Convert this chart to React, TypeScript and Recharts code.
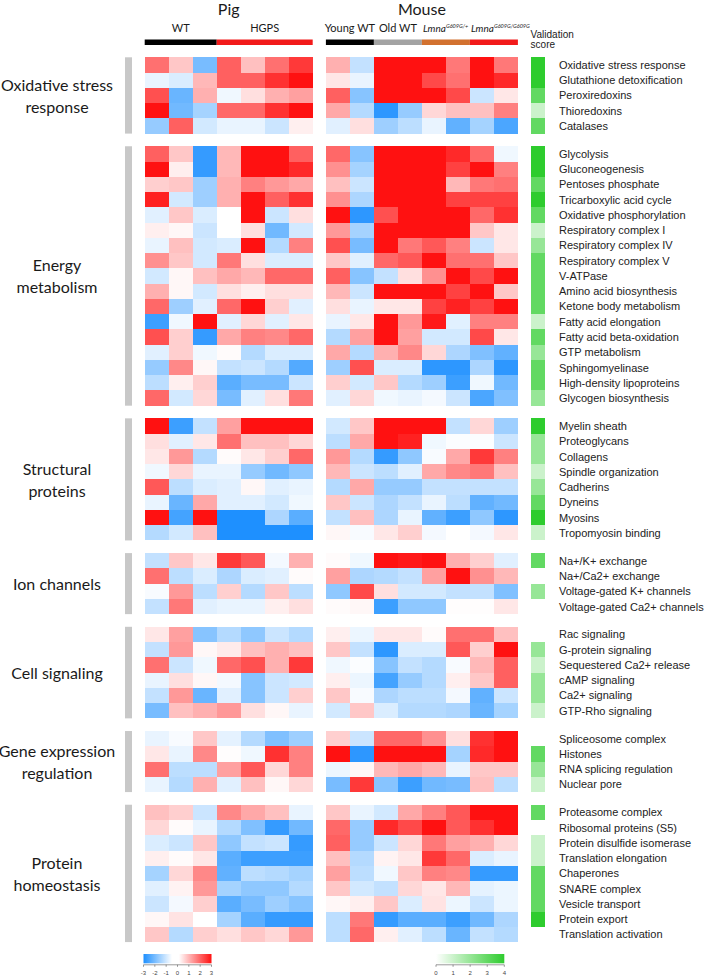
import React from 'react';
import { ScatterChart, Scatter, XAxis, YAxis } from 'recharts';

// ---------------- DATA ----------------
const pigConditions = ['WT', 'WT', 'WT', 'HGPS', 'HGPS', 'HGPS', 'HGPS'];
const mouseConditions = ['Young WT', 'Young WT', 'Old WT', 'Old WT', 'Lmna G609G/+', 'Lmna G609G/+', 'Lmna G609G/G609G', 'Lmna G609G/G609G'];

const oxidativeRows = ['Oxidative stress response', 'Glutathione detoxification', 'Peroxiredoxins', 'Thioredoxins', 'Catalases'];
const oxidativePig = [
  [1.8, 0.7, -1.8, 2.0, 0.8, 1.8, 2.5],
  [-0.3, -0.5, 0.9, 2.0, 2.0, 2.6, 3],
  [2.2, -2.0, 1.0, -0.2, 0.4, 1.0, 1.2],
  [3, -1.9, -1.2, 1.9, 1.9, 2.6, 3],
  [-1.4, 2.0, -0.6, -0.3, -0.3, -0.7, 0.2],
];
const oxidativeMouse = [
  [1.0, -0.8, 3, 3, 3, 1.7, 3, 1.7],
  [0.3, -0.3, 3, 3, 2.3, 1.8, 3, 2.7],
  [2.0, -1.6, 3, 3, 3, 2.3, -0.7, 0.3],
  [1.1, -1.0, -2.8, -1.4, 0.5, 0.8, 0.8, 1.6],
  [-0.4, 0.4, -1.3, -0.9, -0.3, -2.1, -1.2, -2.4],
];
const oxidativeValidation = [4, 4, 3, 1, 3];

const energyRows = ['Glycolysis', 'Gluconeogenesis', 'Pentoses phosphate', 'Tricarboxylic acid cycle', 'Oxidative phosphorylation', 'Respiratory complex I', 'Respiratory complex IV', 'Respiratory complex V', 'V-ATPase', 'Amino acid biosynthesis', 'Ketone body metabolism', 'Fatty acid elongation', 'Fatty acid beta-oxidation', 'GTP metabolism', 'Sphingomyelinase', 'High-density lipoproteins', 'Glycogen biosynthesis'];
const energyPig = [
  [2.0, 0.7, -2.7, 0.9, 3, 3, 2.0],
  [3, 0.2, -2.7, 0.9, 3, 3, 2.7],
  [0.6, 0.7, -1.3, 1.0, 1.6, 1.3, 1.1],
  [2.8, -0.6, -1.3, 1.0, 3, 2.0, 2.6],
  [-0.4, 0.7, -0.5, 0, 3, -0.7, 0.4],
  [0.2, 0.1, -0.7, 0, 0.4, -1.9, -0.6],
  [-0.3, 0.8, -0.6, -0.5, 3, -1.0, 1.6],
  [1.4, 0.7, -0.6, 1.7, 0.4, -0.5, -0.5],
  [-0.6, 0.1, 0.8, 1.1, 0.9, 1.9, 1.9],
  [1.0, 0.1, -0.6, 0.4, 0.2, 0.4, 0.4],
  [1.9, -1.3, -0.4, 1.9, 3, 0.6, -0.4],
  [-2.6, -0.2, 3, -0.4, 0.5, -0.4, 0.3],
  [2.2, 0.6, -2.7, 1.1, 1.6, 1.5, 1.9],
  [-0.4, 0.6, -0.2, 0.05, -1.0, -0.5, -0.5],
  [-1.4, 1.5, 0.1, -0.8, -0.7, -1.0, -2.3],
  [-0.9, 0.2, 0.6, -2.2, -1.8, -1.8, -0.7],
  [1.9, -0.6, 0.5, -1.8, -0.4, 0.4, 1.7],
];
const energyMouse = [
  [1.9, -1.6, 3, 3, 3, 2.7, 1.9, -0.2],
  [1.4, -1.2, 3, 3, 3, 2.4, 3, 1.6],
  [0.8, -0.7, 3, 3, 3, 0.9, 1.7, 1.8],
  [1.4, -1.1, 3, 3, 3, 2.4, 2.4, 2.4],
  [3, -2.8, 2.2, 3, 3, 3, 1.9, 2.6],
  [1.3, -1.2, 3, 3, 3, 3, 0.7, 0.3],
  [2.2, -1.8, 3, 1.7, 2.1, 1.6, -0.7, 0.3],
  [0.7, -0.4, 1.9, 2.1, 3, 1.8, 1.8, 0.7],
  [2.0, -1.6, -0.8, 0.4, 1.4, 3, 2.3, 3],
  [0.9, -0.7, 3, 3, 3, 2.4, 3, 0.7],
  [0.4, -0.3, 0.3, 0.3, 2.4, 2.8, 2.4, 3],
  [-0.3, 0.3, 3, 1.3, 2.9, -0.4, 1.6, 1.6],
  [-1.0, 1.2, 3, 1.2, -0.6, -0.6, 2.3, 0.3],
  [1.1, -1.0, 1.0, 1.5, 0.5, -1.1, -1.7, -2.1],
  [-1.3, 2.2, -0.5, -0.5, -2.8, -2.8, -1.1, -2.8],
  [0.6, -0.6, 0.7, -1.0, -1.3, -2.6, -0.2, -1.9],
  [-0.4, 0.5, -0.2, -0.3, -0.15, -0.7, -2.4, -1.7],
];
const energyValidation = [4, 4, 3, 4, 3, 1, 2, 3, 3, 3, 3, 1, 3, 2, 3, 3, 2];

const structuralRows = ['Myelin sheath', 'Proteoglycans', 'Collagens', 'Spindle organization', 'Cadherins', 'Dyneins', 'Myosins', 'Tropomyosin binding'];
const structuralPig = [
  [3, -2.6, -0.8, 1.2, 3, 3, 3],
  [0.4, -0.4, 0.3, 1.8, 0.8, 0.8, 0.5],
  [0.3, 1.3, -1.0, 0.05, 0.3, 0.6, 1.9],
  [-0.2, 0.5, -0.3, -0.3, -1.4, -1.9, -1.5],
  [2.1, -0.9, -0.5, -0.4, 0.1, -0.4, -0.3],
  [-0.3, -2.0, 1.1, -0.4, -0.4, -0.6, -0.2],
  [3, -2.5, 3, -3, -3, -1.1, -2.2],
  [-1.0, -0.6, 0.8, -3, -3, -3, -3],
];
const structuralMouse = [
  [-0.6, 0.7, 3, 3, 3, -0.8, 0.5, -1.3],
  [-0.9, 1.1, 3, 2.8, -0.2, -0.05, -0.05, -0.7],
  [1.3, -1.0, -2.7, -1.5, -0.1, 1.1, 2.5, 1.6],
  [0.9, -0.7, -0.9, -0.4, 1.1, 1.5, 1.7, 0.8],
  [-1.0, 1.1, -1.4, -1.4, -0.8, -0.8, -0.8, -0.8],
  [0.7, -0.7, -1.1, -0.8, -0.3, -0.9, -2.1, -1.9],
  [-0.8, 0.8, -1.1, -0.3, -2.1, -2.6, -1.5, -2.8],
  [0.1, -0.1, 0.3, 0.6, -0.15, 0, -0.15, 0.3],
];
const structuralValidation = [4, 2, 2, 1, 2, 3, 4, 1];

const ionRows = ['Na+/K+ exchange', 'Na+/Ca2+ exchange', 'Voltage-gated K+ channels', 'Voltage-gated Ca2+ channels'];
const ionPig = [
  [-0.8, 0.7, 0.3, 2.5, 2.1, -0.15, 1.0],
  [1.8, -0.9, -0.5, -1.1, -0.5, -0.4, 0.05],
  [-0.1, 1.3, -0.9, 0.6, -1.0, 0.7, -0.9],
  [-0.8, 1.7, -0.4, -0.3, -0.3, 0.2, 0.4],
];
const ionMouse = [
  [0.05, -0.2, 3, 2.9, 3, 1.0, 0.6, -0.4],
  [1.2, -1.1, -1.0, -0.8, 1.2, 3, 1.4, 0.9],
  [-1.5, 2.3, 0.4, -0.6, -0.6, -0.8, -0.8, -1.7],
  [0.05, 0.1, -2.6, -1.5, -1.5, 0.02, 0.02, 0.3],
];
const ionValidation = [3, 0, 2, 0];

const signalingRows = ['Rac signaling', 'G-protein signaling', 'Sequestered Ca2+ release', 'cAMP signaling', 'Ca2+ signaling', 'GTP-Rho signaling'];
const signalingPig = [
  [0.3, 1.2, -1.6, -1.0, -1.5, -0.7, -1.0],
  [-0.8, 1.3, 0.1, 0.25, 0.8, 1.0, 0.8],
  [1.8, -0.7, -0.2, 1.9, 2.2, 1.0, 2.5],
  [-0.3, 0.4, 0.1, -0.15, -1.6, -0.7, -0.6],
  [-0.8, 1.3, -2.0, -0.4, -1.6, -0.7, 0.6],
  [-1.8, 0.8, 1.0, 1.3, 0.4, 0.1, -0.3],
];
const signalingMouse = [
  [0.2, -0.25, 0.3, 0.3, 0.05, 1.8, 1.8, 0.8],
  [0.7, -0.8, -2.8, -0.5, -0.5, 2.1, 0.6, 3],
  [-0.2, -0.05, -1.6, -0.8, -1.0, -0.1, 0.9, 2.0],
  [0.2, -0.25, -2.5, -1.4, -1.0, 0.2, 0.7, 2.0],
  [0.7, -0.1, -1.1, -0.9, -0.9, -0.15, -2.1, -0.7],
  [-0.6, 0.7, -0.5, -1.0, -1.0, -1.1, -2.0, -1.2],
];
const signalingValidation = [0, 2, 1, 2, 2, 1];

const geneRows = ['Spliceosome complex', 'Histones', 'RNA splicing regulation', 'Nuclear pore'];
const genePig = [
  [-0.3, -0.1, 0.7, -0.35, -1.0, -1.7, -1.3],
  [0.3, -0.3, 1.5, 0.03, -0.2, 2.6, 1.6],
  [1.8, -0.9, -0.9, 1.2, 2.1, 0.5, 1.6],
  [-0.3, -1.0, 1.0, -0.4, 0.8, 0.1, 0.5],
];
const geneMouse = [
  [0.6, -0.7, 1.9, 1.9, 1.4, 0.4, 2.6, 3],
  [3, -2.8, 3, 3, 3, -1.2, 2.7, 3],
  [-0.25, 0.1, 0.9, 1.1, 0.9, -0.3, 0.7, 0.7],
  [-1.8, 2.5, -1.6, -2.6, -1.9, -1.8, 0.8, -0.9],
];
const geneValidation = [0, 3, 2, 1];

const proteinRows = ['Proteasome complex', 'Ribosomal proteins (S5)', 'Protein disulfide isomerase', 'Translation elongation', 'Chaperones', 'SNARE complex', 'Vesicle transport', 'Protein export', 'Translation activation'];
const proteinPig = [
  [0.8, 0.6, -0.7, 1.5, 1.1, 0.8, -0.3],
  [0.5, 0.05, -0.3, -1.0, -1.7, -2.7, -1.9],
  [-0.5, -0.7, 0.7, -1.5, -0.8, -0.7, -2.7],
  [0.2, 0.05, 0.3, -2.2, -2.6, -2.6, -2.6],
  [-1.2, 0.5, 1.5, -2.1, -0.9, -1.0, -1.2],
  [-0.4, 0.15, 1.3, -1.2, -1.5, -1.5, -1.0],
  [-0.7, -0.15, 0.6, -2.2, -1.8, -1.3, -1.6],
  [0.1, 0.35, 0, -1.2, -2.2, -2.7, -2.7],
  [0.7, -1.0, 0.6, 0.4, 0.7, 0.5, 1.3],
];
const proteinMouse = [
  [0.7, -0.3, -0.6, 1.1, 1.6, 2.1, 3, 3],
  [1.9, -1.4, 2.7, 2.3, 3, 2.1, 2.6, 3],
  [2.0, -1.4, -0.7, 0.5, 1.7, 1.2, 1.0, 0.5],
  [0.8, -1.0, 0.15, 0.3, 2.5, 1.9, -0.5, -0.3],
  [1.2, -0.9, -0.2, 0.7, 1.6, 1.5, -2.7, -2.7],
  [0.7, -0.6, -0.8, 0.5, 0.3, 0.9, -0.35, -0.25],
  [0.1, 0.2, 0.7, -0.5, 0.35, -0.25, -0.7, -0.25],
  [-0.9, 1.7, -2.7, -2.2, -2.2, -2.6, -1.9, -1.1],
  [-0.9, 1.9, 0.2, -0.4, -0.9, -2.0, -0.8, -1.0],
];
const proteinValidation = [3, 0, 1, 1, 3, 3, 3, 4, 0];

const diverging_ticks = [-3, -2, -1, 0, 1, 2, 3];
const validation_ticks = [0, 1, 2, 3, 4];

// ---------------- LAYOUT ----------------
const W = 709;
const H = 978;
const PLOT_LEFT = 144.7;
const TOP = 57.3;
const CELL_PX = 24;
const ROW_PX = 15.26;
const MOUSE_X0 = 7.55;
const VAL_X0 = 16.08;
const VAL_W = 0.585;
const X_MAX = 16.667;
const GAP_Y = 0.83;

const groups = [
  { title: ['Oxidative stress', 'response'], rows: oxidativeRows, pig: oxidativePig, mouse: oxidativeMouse, val: oxidativeValidation },
  { title: ['Energy', 'metabolism'], rows: energyRows, pig: energyPig, mouse: energyMouse, val: energyValidation },
  { title: ['Structural', 'proteins'], rows: structuralRows, pig: structuralPig, mouse: structuralMouse, val: structuralValidation },
  { title: ['Ion channels'], rows: ionRows, pig: ionPig, mouse: ionMouse, val: ionValidation },
  { title: ['Cell signaling'], rows: signalingRows, pig: signalingPig, mouse: signalingMouse, val: signalingValidation },
  { title: ['Gene expression', 'regulation'], rows: geneRows, pig: genePig, mouse: geneMouse, val: geneValidation },
  { title: ['Protein', 'homeostasis'], rows: proteinRows, pig: proteinPig, mouse: proteinMouse, val: proteinValidation },
];

const groupStarts: number[] = [];
{
  let acc = 0;
  groups.forEach((g, i) => {
    groupStarts.push(acc + i * GAP_Y);
    acc += g.rows.length;
  });
}
const TOTAL_ROWS = groups.reduce((s, g) => s + g.rows.length, 0);
const Y_MAX = TOTAL_ROWS + (groups.length - 1) * GAP_Y;

const cells: { x: number; y: number; v: number; kind: string }[] = [];
groups.forEach((g, gi) => {
  g.rows.forEach((_, r) => {
    const y = groupStarts[gi] + r + 0.5;
    g.pig[r].forEach((v, c) => cells.push({ x: c + 0.5, y, v, kind: 'expr' }));
    g.mouse[r].forEach((v, c) => cells.push({ x: MOUSE_X0 + c + 0.5, y, v, kind: 'expr' }));
    cells.push({ x: VAL_X0 + VAL_W / 2, y, v: g.val[r], kind: 'val' });
  });
});

const px = (u: number) => PLOT_LEFT + u * CELL_PX;
const py = (u: number) => TOP + u * ROW_PX;

const RED = [255, 17, 17];
const BLUE = [30, 144, 255];
const GREEN = [46, 204, 46];
const mix = (c: number[], t: number) => {
  const k = Math.max(0, Math.min(1, t));
  return `rgb(${Math.round(255 + (c[0] - 255) * k)},${Math.round(255 + (c[1] - 255) * k)},${Math.round(255 + (c[2] - 255) * k)})`;
};
const divColor = (v: number) => (v >= 0 ? mix(RED, v / 3) : mix(BLUE, -v / 3));
const greenColor = (v: number) => mix(GREEN, v / 4);

const CellShape = (props: any) => {
  const { cx, cy } = props;
  const p = props.payload || props;
  if (cx == null || cy == null) return null;
  const w = p.kind === 'val' ? VAL_W * CELL_PX : CELL_PX;
  const h = ROW_PX;
  const fill = p.kind === 'val' ? greenColor(p.v) : divColor(p.v);
  return <rect x={cx - w / 2} y={cy - h / 2} width={w} height={h} fill={fill} shapeRendering="crispEdges" />;
};

const HEAD_FONT = 'Lato, "Open Sans", sans-serif';
const LABEL_FONT = '"Liberation Sans", Arial, sans-serif';

export default function App() {
  const plotW = X_MAX * CELL_PX;
  const plotH = Y_MAX * ROW_PX;
  const margin = { left: PLOT_LEFT, top: TOP, right: W - PLOT_LEFT - plotW, bottom: H - TOP - plotH };

  const cbY = 954;
  const cbH = 9.3;
  const divX0 = 143.5, divX1 = 211.5;
  const grX0 = 436, grX1 = 504.3;

  return (
    <div style={{ position: 'absolute', left: 0, top: 0, width: W, height: H, background: '#fff' }}>
      <div style={{ position: 'absolute', left: 0, top: 0 }}>
        <ScatterChart width={W} height={H} margin={margin}>
          <XAxis type="number" dataKey="x" domain={[0, X_MAX]} hide />
          <YAxis type="number" dataKey="y" domain={[0, Y_MAX]} reversed hide />
          <Scatter data={cells} shape={CellShape} isAnimationActive={false} />
        </ScatterChart>
      </div>
      <svg width={W} height={H} style={{ position: 'absolute', left: 0, top: 0, pointerEvents: 'none' }}>
        <defs>
          <linearGradient id="divGrad" x1="0" x2="1" y1="0" y2="0">
            <stop offset="0%" stopColor="rgb(30,144,255)" />
            <stop offset="42%" stopColor="#ffffff" />
            <stop offset="52%" stopColor="#ffffff" />
            <stop offset="100%" stopColor="rgb(255,17,17)" />
          </linearGradient>
          <linearGradient id="grGrad" x1="0" x2="1" y1="0" y2="0">
            <stop offset="0%" stopColor="#ffffff" />
            <stop offset="100%" stopColor="rgb(46,204,46)" />
          </linearGradient>
        </defs>

        {/* Titles */}
        <text x={px(3.5)} y={15} fontSize={16} fontFamily={HEAD_FONT} textAnchor="middle" fill="#1a1a1a">Pig</text>
        <text x={px(MOUSE_X0 + 4)} y={15} fontSize={16} fontFamily={HEAD_FONT} textAnchor="middle" fill="#1a1a1a">Mouse</text>

        {/* Condition labels */}
        <g fontFamily={HEAD_FONT} fontSize={11} fill="#1a1a1a">
          <text x={px(1.5)} y={32} textAnchor="middle">WT</text>
          <text x={px(5)} y={32} textAnchor="middle">HGPS</text>
          <text x={px(MOUSE_X0 + 1)} y={32} textAnchor="middle">Young WT</text>
          <text x={px(MOUSE_X0 + 3)} y={32} textAnchor="middle">Old WT</text>
          <text x={px(MOUSE_X0 + 4) + 1} y={32} fontStyle="italic" fontSize={10}>Lmna<tspan fontSize={5.5} dy={-4.5}>G609G/+</tspan></text>
          <text x={px(MOUSE_X0 + 6) + 1} y={32} fontStyle="italic" fontSize={10}>Lmna<tspan fontSize={5.5} dy={-4.5}>G609G/G609G</tspan></text>
        </g>

        {/* Condition colour bars */}
        <rect x={px(0)} y={39.5} width={3 * CELL_PX} height={5.5} fill="#000" />
        <rect x={px(3)} y={39.5} width={4 * CELL_PX} height={5.5} fill="#f21a1a" />
        <rect x={px(MOUSE_X0)} y={39.5} width={2 * CELL_PX} height={5.5} fill="#000" />
        <rect x={px(MOUSE_X0 + 2)} y={39.5} width={2 * CELL_PX} height={5.5} fill="#a3a3a3" />
        <rect x={px(MOUSE_X0 + 4)} y={39.5} width={2 * CELL_PX} height={5.5} fill="#d2712f" />
        <rect x={px(MOUSE_X0 + 6)} y={39.5} width={2 * CELL_PX} height={5.5} fill="#f21a1a" />

        <text x={px(VAL_X0)} y={38} fontSize={10} fontFamily={LABEL_FONT} fill="#1a1a1a">Validation</text>
        <text x={px(VAL_X0)} y={48} fontSize={10} fontFamily={LABEL_FONT} fill="#1a1a1a">score</text>

        {/* Groups */}
        {groups.map((g, gi) => {
          const y0 = py(groupStarts[gi]);
          const y1 = py(groupStarts[gi] + g.rows.length);
          const cy = (y0 + y1) / 2;
          const n = g.title.length;
          return (
            <g key={gi}>
              <rect x={125} y={y0} width={7} height={y1 - y0} fill="#c8c8c8" />
              {g.title.map((t, ti) => (
                <text key={ti} x={57} y={cy + (ti - (n - 1) / 2) * 22} fontSize={16} fontFamily={HEAD_FONT} textAnchor="middle" dominantBaseline="central" fill="#1a1a1a">{t}</text>
              ))}
              {g.rows.map((r, ri) => (
                <text key={ri} x={559} y={py(groupStarts[gi] + ri + 0.5)} fontSize={11} fontFamily={LABEL_FONT} dominantBaseline="central" fill="#222">{r}</text>
              ))}
            </g>
          );
        })}

        {/* Colour scales */}
        <rect x={divX0} y={cbY} width={divX1 - divX0} height={cbH} fill="url(#divGrad)" />
        <line x1={divX0} x2={divX1} y1={cbY + cbH + 1.5} y2={cbY + cbH + 1.5} stroke="#555" strokeWidth={0.6} />
        {diverging_ticks.map((t) => {
          const x = divX0 + ((t + 3) / 6) * (divX1 - divX0);
          return (
            <g key={t}>
              <line x1={x} x2={x} y1={cbY + cbH + 1.5} y2={cbY + cbH + 3.5} stroke="#555" strokeWidth={0.6} />
              <text x={x} y={975} fontSize={6} fontFamily={LABEL_FONT} textAnchor="middle" fill="#444">{t}</text>
            </g>
          );
        })}
        <rect x={grX0} y={cbY} width={grX1 - grX0} height={cbH} fill="url(#grGrad)" />
        <line x1={grX0} x2={grX1} y1={cbY + cbH + 1.5} y2={cbY + cbH + 1.5} stroke="#555" strokeWidth={0.6} />
        {validation_ticks.map((t) => {
          const x = grX0 + (t / 4) * (grX1 - grX0);
          return (
            <g key={t}>
              <line x1={x} x2={x} y1={cbY + cbH + 1.5} y2={cbY + cbH + 3.5} stroke="#555" strokeWidth={0.6} />
              <text x={x} y={975} fontSize={6} fontFamily={LABEL_FONT} textAnchor="middle" fill="#444">{t}</text>
            </g>
          );
        })}
      </svg>
    </div>
  );
}
